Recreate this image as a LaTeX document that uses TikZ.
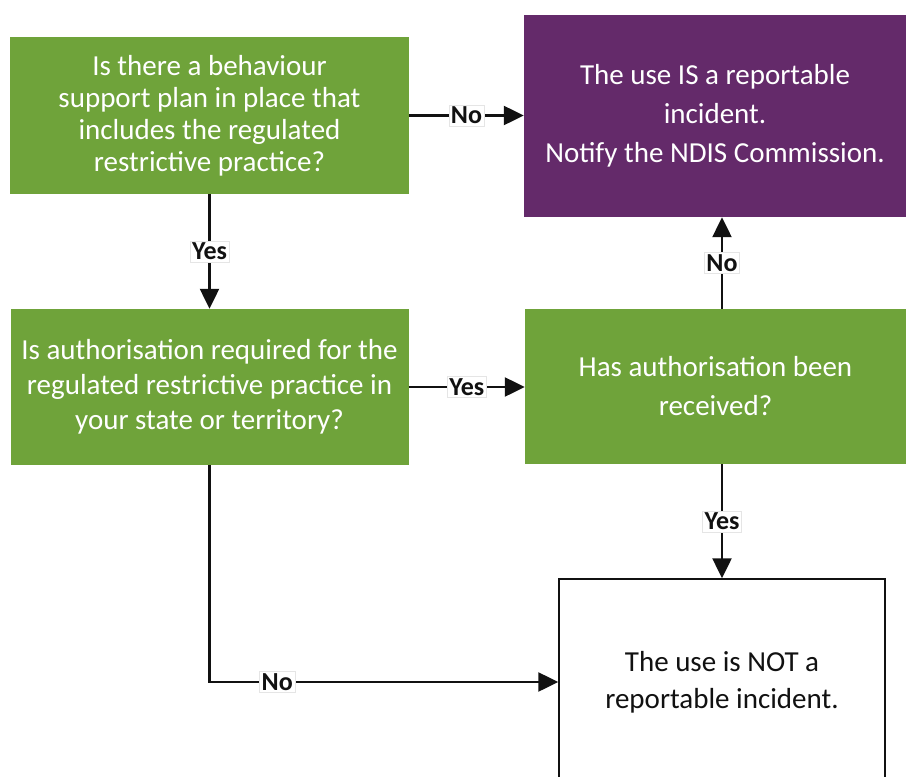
\documentclass[tikz,border=0pt]{standalone}
\usepackage{fontspec}
\setmainfont{Carlito}
\usepackage{tikz}
\usetikzlibrary{arrows.meta,positioning,calc}
\definecolor{PlanGreen}{HTML}{6FA33A}
\definecolor{ReportPurple}{HTML}{642A6A}
\definecolor{FlowInk}{HTML}{111111}

\begin{document}
\begin{tikzpicture}[x=1pt, y=-1pt,
  lines/.style={font=\fontsize{29}{#1}\selectfont},
  question/.style={fill=PlanGreen, text=white, align=center, inner sep=0pt},
  report/.style={fill=ReportPurple, text=white, align=center, inner sep=0pt},
  outcome/.style={draw=FlowInk, line width=1.4pt, fill=white, text=FlowInk, align=center, inner sep=0pt},
  flow/.style={FlowInk, line width=2.3pt, -{Triangle[length=20pt,width=19pt]}},
  answer/.style={fill=white, draw=black!10, line width=0.4pt, text=FlowInk, font=\fontsize{26}{26}\selectfont\bfseries, inner sep=2pt}]

\useasboundingbox (0,0) rectangle (909,776);

% decision boxes
\node[question, lines=32, minimum width=399pt, minimum height=157pt] (plan) at (209.5,115.5)
  {Is there a behaviour\\support plan in place that\\includes the regulated\\restrictive practice?};
\node[report, lines=39, minimum width=382pt, minimum height=202pt] (notify) at (715,116)
  {The use IS a reportable\\incident.\\Notify the NDIS Commission.};
\node[question, lines=35, minimum width=398pt, minimum height=156pt] (authreq) at (209.5,387)
  {Is authorisation required for the\\regulated restrictive practice in\\your state or territory?};
\node[question, lines=39, minimum width=381pt, minimum height=155pt] (authrec) at (715.5,386.5)
  {Has authorisation been\\received?};
\node[outcome, lines=37, minimum width=326pt, minimum height=206pt] (notrep) at (722,682)
  {The use is NOT a\\reportable incident.};

% connectors
\draw[flow] (plan.east) -- node[answer] {No} (plan.east -| notify.west);
\draw[flow] (plan.south) -- node[answer] {Yes} (authreq.north);
\draw[flow] (authreq.east) -- node[answer] {Yes} (authreq.east -| authrec.west);
\draw[flow] (authrec.north -| notrep) -- node[answer] {No} (notify.south -| notrep);
\draw[flow] (authrec.south -| notrep) -- node[answer] {Yes} (notrep.north);
\draw[flow] (authreq.south) |- node[answer, pos=0.597] {No} (notrep.west);
\end{tikzpicture}
\end{document}
